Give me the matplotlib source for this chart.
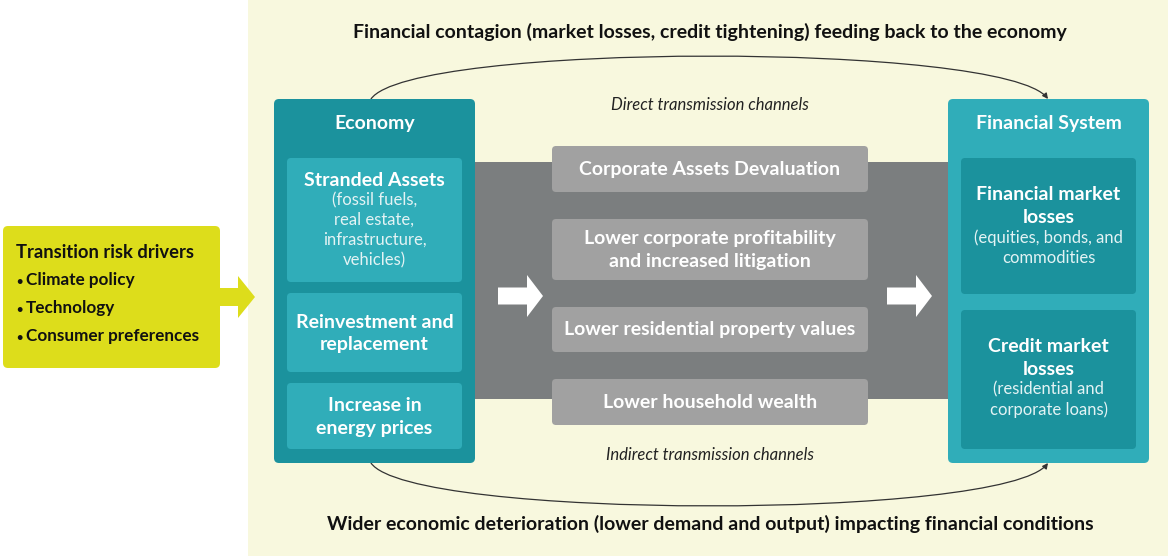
import matplotlib
matplotlib.use("Agg")
import matplotlib.pyplot as plt
from matplotlib.patches import FancyBboxPatch, Rectangle, Polygon, FancyArrowPatch
from matplotlib.path import Path

plt.rcParams['font.family'] = ['Lato', 'DejaVu Sans']

# texts of the diagram
top_title = "Financial contagion (market losses, credit tightening) feeding back to the economy"
bottom_title = "Wider economic deterioration (lower demand and output) impacting financial conditions"
direct_label = "Direct transmission channels"
indirect_label = "Indirect transmission channels"
driver_title = "Transition risk drivers"
drivers = ["Climate policy", "Technology", "Consumer preferences"]
economy_title = "Economy"
economy_items = ["Stranded Assets", "Reinvestment and\nreplacement", "Increase in\nenergy prices"]
economy_notes = ["(fossil fuels,\nreal estate,\ninfrastructure,\nvehicles)", "", ""]
channels = ["Corporate Assets Devaluation", "Lower corporate profitability\nand increased litigation",
            "Lower residential property values", "Lower household wealth"]
finsys_title = "Financial System"
finsys_items = ["Financial market\nlosses", "Credit market\nlosses"]
finsys_notes = ["(equities, bonds, and\ncommodities", "(residential and\ncorporate loans)"]

CREAM = "#f8f8de"
YELLOW = "#dddd1b"
DARK_TEAL = "#1b929d"
LIGHT_TEAL = "#30adb9"
BAND = "#7b7e7f"
CHAN = "#a1a1a1"
NOTE = "#e3f3f4"

BIG = 14
SUB = 12
LS_BIG = 1.42
LS_SUB = 1.3

fig = plt.figure(figsize=(11.68, 5.56), dpi=100)
ax = fig.add_axes([0, 0, 1, 1])
ax.set_xlim(0, 1168)
ax.set_ylim(556, 0)
ax.axis("off")


def box(x0, y0, x1, y1, color, r=4, z=1):
    p = FancyBboxPatch((x0, y0), x1 - x0, y1 - y0, boxstyle="round,pad=0,rounding_size=%d" % r,
                       fc=color, ec="none", zorder=z)
    ax.add_patch(p)


def arrow(x0, x1, yc, color, z=3, stem=9, head=21, hx=None):
    if hx is None:
        hx = x1 - (x1 - x0) * 0.36
    pts = [(x0, yc - stem), (hx, yc - stem), (hx, yc - head), (x1, yc), (hx, yc + head),
           (hx, yc + stem), (x0, yc + stem)]
    ax.add_patch(Polygon(pts, closed=True, fc=color, ec="none", zorder=z))


# background panel
ax.add_patch(Rectangle((248, 0), 920, 556, fc=CREAM, ec="none", zorder=0))

# drivers box + arrow
box(3, 226, 220, 368, YELLOW, r=5, z=2)
arrow(215, 255, 297, YELLOW, z=2, stem=9, head=21, hx=238)
ax.text(16, 252, driver_title, fontsize=13.2, fontweight="bold", color="#111111", va="center", zorder=4)
for i, d in enumerate(drivers):
    ax.text(16, 281 + 28 * i, "\u2022", fontsize=8, fontweight="bold", color="#111111",
            va="center", zorder=4)
    ax.text(26, 280 + 28 * i, d, fontsize=12.3, fontweight="bold", color="#111111",
            va="center", zorder=4)

# grey band with channels
ax.add_patch(Rectangle((470, 162), 482, 237, fc=BAND, ec="none", zorder=1))
chan_y = [(146, 192), (219, 280), (307, 352), (379, 425)]
for (y0, y1), t in zip(chan_y, channels):
    box(552, y0, 868, y1, CHAN, r=4, z=2)
    ax.text(710, (y0 + y1) / 2 + 0.5, t, fontsize=BIG, fontweight="bold", color="white", ha="center",
            va="center", linespacing=LS_BIG, zorder=4)
arrow(498, 543, 296, "white", stem=8.5, head=21, hx=527)
arrow(887, 932, 296, "white", stem=8.5, head=21, hx=916)

# economy block
box(274, 99, 475, 463, DARK_TEAL, r=5, z=2)
ax.text(374.5, 124, economy_title, fontsize=BIG, fontweight="bold", color="white", ha="center",
        va="center", zorder=4)
eco_y = [(158, 282), (293, 372), (383, 449)]
for (y0, y1), t, n in zip(eco_y, economy_items, economy_notes):
    box(287, y0, 462, y1, LIGHT_TEAL, r=4, z=3)
    if n:
        ax.text(374.5, 180, t, fontsize=BIG, fontweight="bold", color="white", ha="center",
                va="center", zorder=4)
        ax.text(374.5, 230, n, fontsize=SUB, color=NOTE, ha="center", va="center",
                linespacing=LS_SUB, zorder=4)
    else:
        ax.text(374.5, (y0 + y1) / 2 + 1, t, fontsize=BIG, fontweight="bold", color="white",
                ha="center", va="center", linespacing=LS_BIG, zorder=4)

# financial system block
box(948, 99, 1149, 463, LIGHT_TEAL, r=5, z=2)
ax.text(1048.5, 124, finsys_title, fontsize=BIG, fontweight="bold", color="white", ha="center",
        va="center", zorder=4)
fin_y = [(158, 294), (310, 449)]
for (y0, y1), t, n in zip(fin_y, finsys_items, finsys_notes):
    box(961, y0, 1136, y1, DARK_TEAL, r=4, z=3)
    ax.text(1048.5, y0 + 48, t, fontsize=BIG, fontweight="bold", color="white", ha="center",
            va="center", linespacing=LS_BIG, zorder=4)
    ax.text(1048.5, y0 + 90, n, fontsize=SUB, color=NOTE, ha="center", va="center",
            linespacing=LS_SUB, zorder=4)

# italic channel labels
ax.text(710, 105, direct_label, fontsize=12, style="italic", color="#222222", ha="center",
        va="center", zorder=4)
ax.text(710, 455, indirect_label, fontsize=12, style="italic", color="#222222", ha="center",
        va="center", zorder=4)

# feedback arcs
C4 = [Path.MOVETO, Path.CURVE4, Path.CURVE4, Path.CURVE4]
top = Path([(371, 99), (410, 42), (1005, 42), (1048, 99)], C4)
ax.add_patch(FancyArrowPatch(path=top, arrowstyle="-|>", mutation_scale=8, lw=0.9,
                             color="#333333", zorder=1))
bot = Path([(371, 463), (410, 520), (1005, 520), (1048, 463)], C4)
ax.add_patch(FancyArrowPatch(path=bot, arrowstyle="-|>", mutation_scale=8, lw=0.9,
                             color="#333333", zorder=1))

ax.text(710, 32, top_title, fontsize=BIG, fontweight="bold", color="#111111", ha="center",
        va="center", zorder=4)
ax.text(710, 524, bottom_title, fontsize=BIG, fontweight="bold", color="#111111", ha="center",
        va="center", zorder=4)

fig.savefig("out.png", dpi=100, facecolor="white")
